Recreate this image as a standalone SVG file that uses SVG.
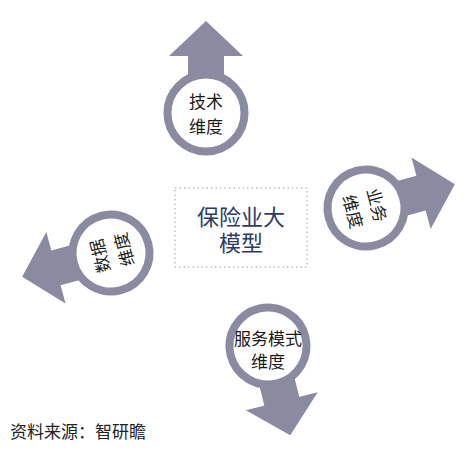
<svg xmlns="http://www.w3.org/2000/svg" width="464" height="460" viewBox="0 0 464 460">
<defs>
<style>
.ring{fill:#fff;stroke:#8a8aa1;stroke-width:8}
.arr{fill:#8a8aa1}
.lbl{font-family:"Liberation Sans","Noto Sans CJK SC",sans-serif;font-size:17px;fill:#1a1a1a;text-anchor:middle}
.ctr{font-family:"Liberation Sans","Noto Sans CJK SC",sans-serif;font-size:22px;fill:#2d3b66;text-anchor:middle}
.src{font-family:"Liberation Sans","Noto Sans CJK SC",sans-serif;font-size:17px;fill:#222}
</style>
<g id="arrowShape">
<rect class="arr" x="-18" y="-60" width="36" height="24"/>
<polygon class="arr" points="-37,-57 37,-57 0,-92"/>
<circle class="ring" cx="0" cy="0" r="38.5"/>
</g>
</defs>
<g id="connectors"></g>
<g id="center">
<rect x="175" y="188" width="132" height="79" fill="#fff" stroke="#a0a0a0" stroke-width="1" stroke-dasharray="1.5,3"/>
<text class="ctr" x="241" y="225">保险业大</text>
<text class="ctr" x="241" y="251">模型</text>
</g>
<g id="tech" transform="translate(206,113)">
<use href="#arrowShape"/>
<text class="lbl" x="0" y="-5">技术</text>
<text class="lbl" x="0" y="20">维度</text>
</g>
<g id="business" transform="translate(366,208) rotate(75)">
<use href="#arrowShape"/>
<text class="lbl" x="0" y="-5">业务</text>
<text class="lbl" x="0" y="20">维度</text>
</g>
<g id="data" transform="translate(111,253) rotate(-105)">
<use href="#arrowShape"/>
<text class="lbl" x="0" y="-5">数据</text>
<text class="lbl" x="0" y="20">维度</text>
</g>
<g id="service" transform="translate(268,346)">
<use href="#arrowShape" transform="rotate(166)"/>
<text class="lbl" x="0" y="-1">服务模式</text>
<text class="lbl" x="0" y="22">维度</text>
</g>
<text class="src" x="10" y="438">资料来源：智研瞻</text>
</svg>
